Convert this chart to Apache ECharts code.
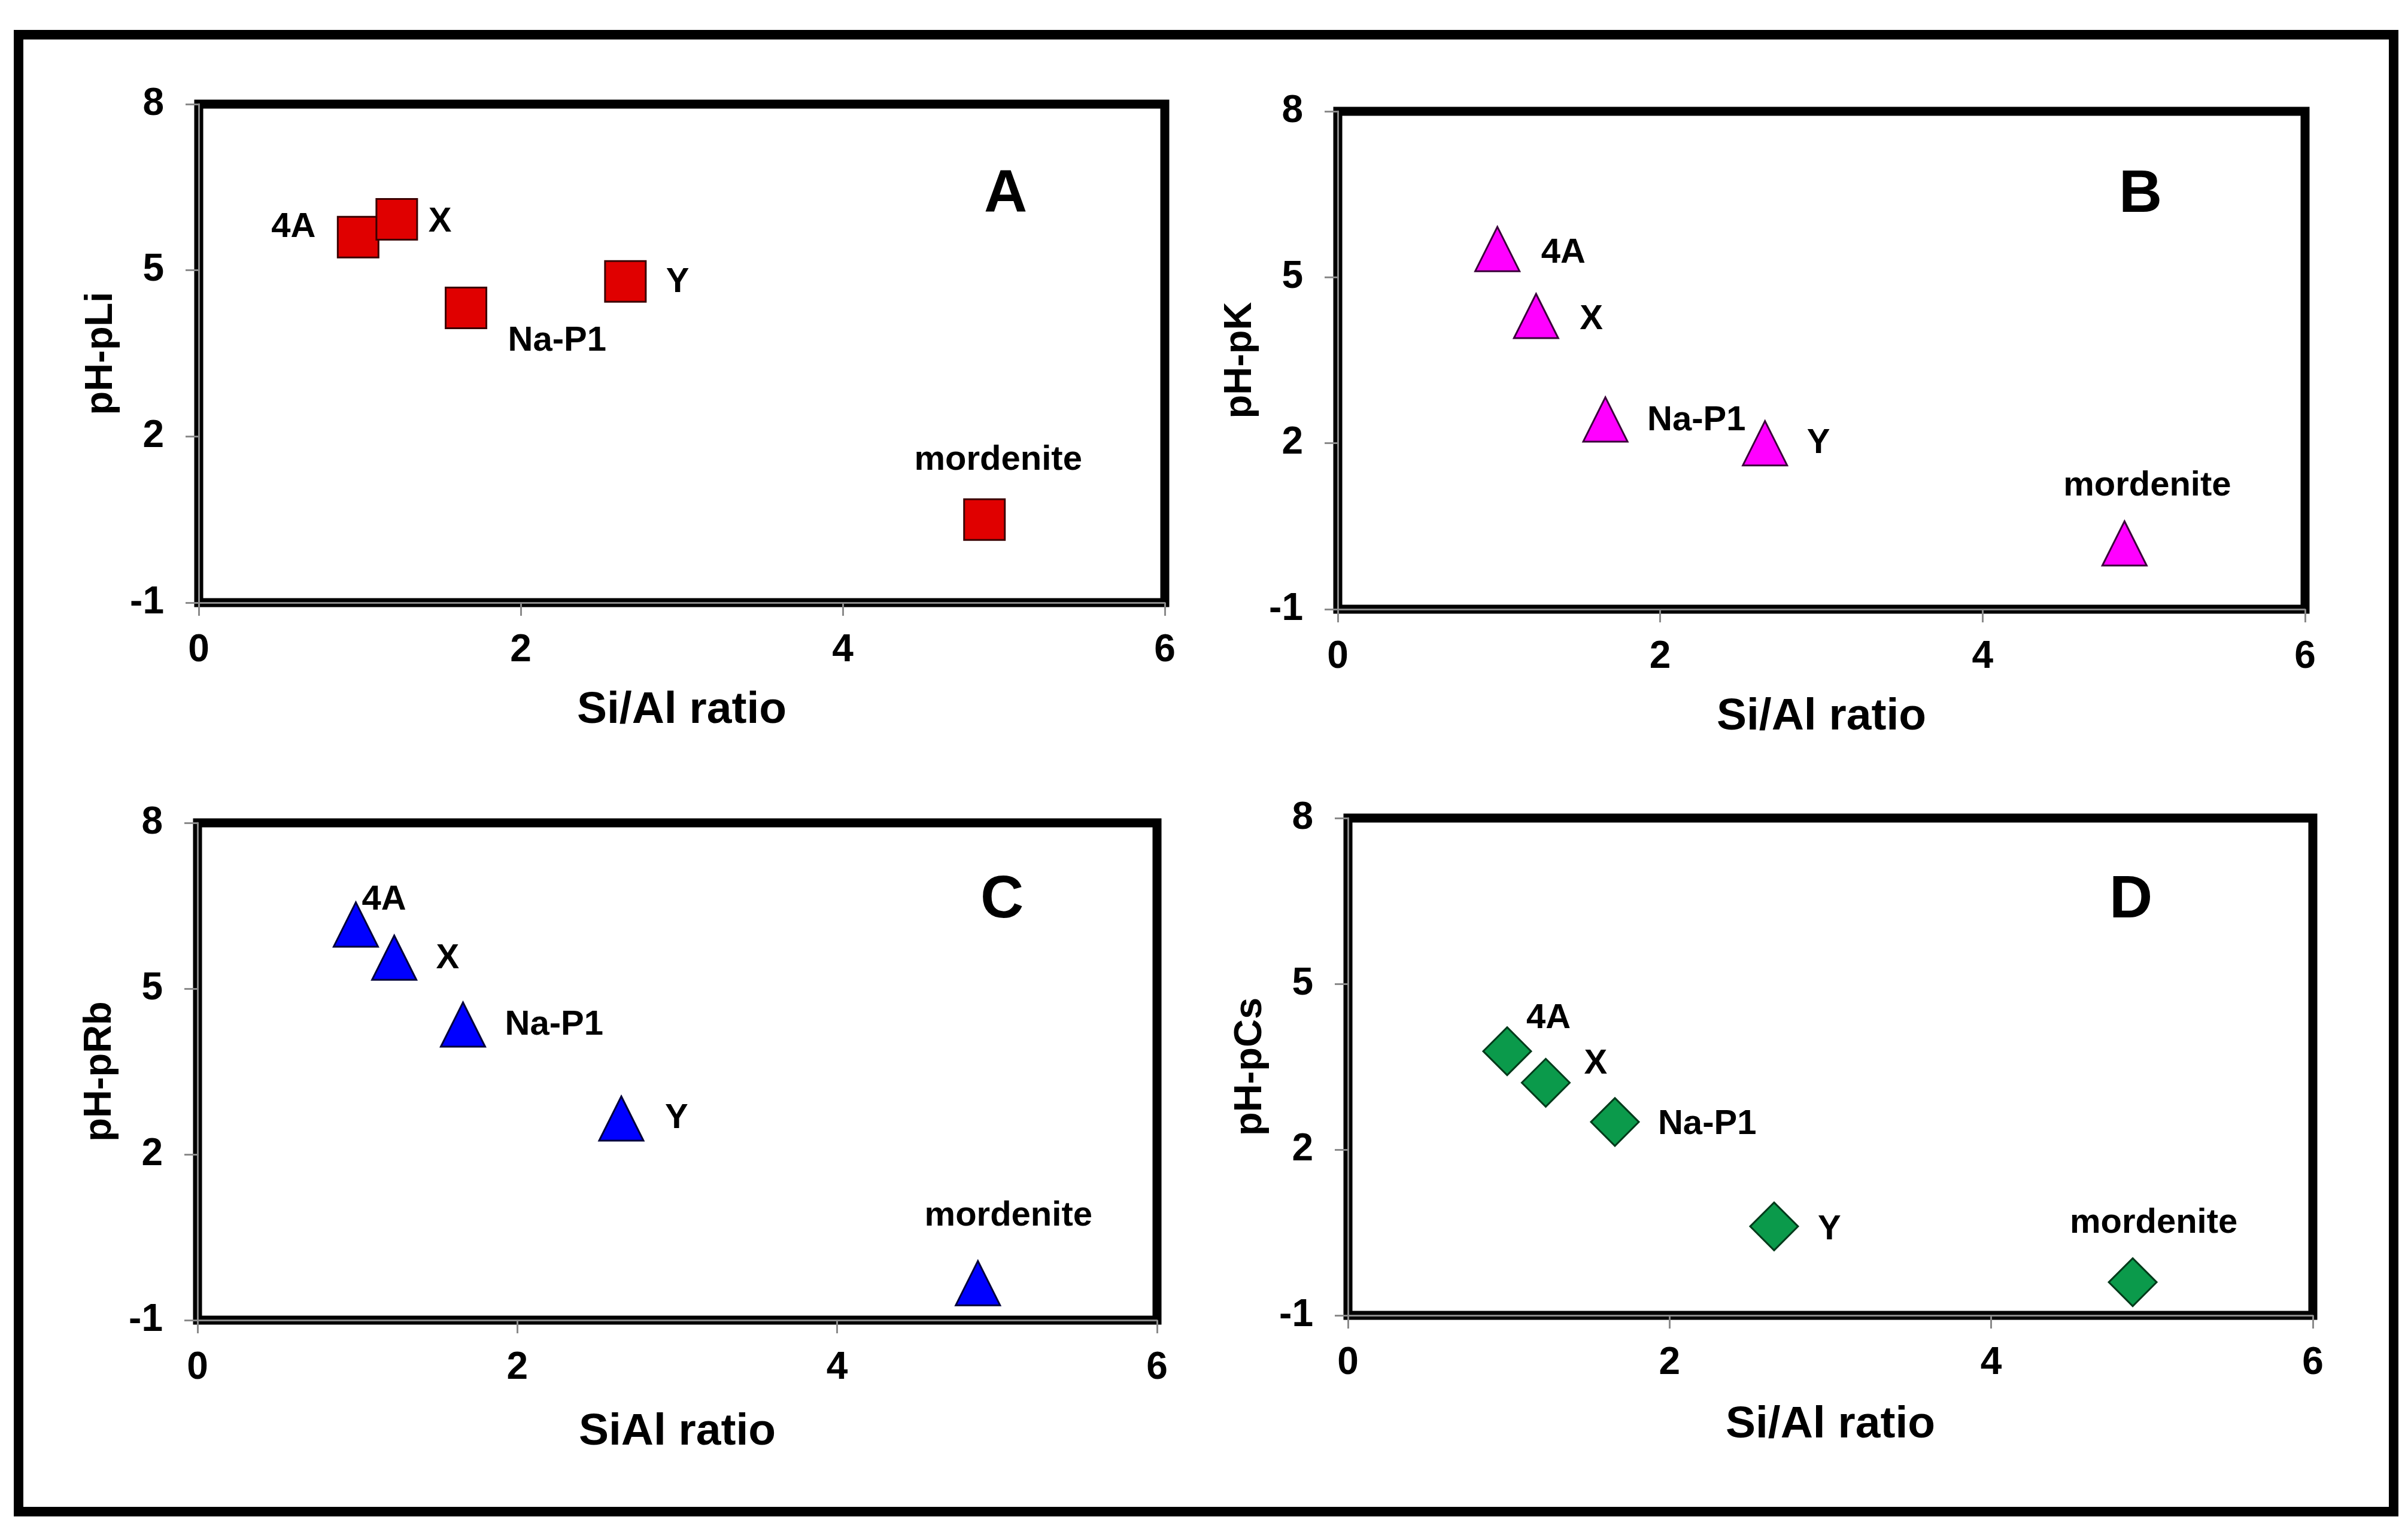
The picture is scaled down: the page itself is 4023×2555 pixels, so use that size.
<!DOCTYPE html>
<html>
<head>
<meta charset="utf-8">
<script src="https://cdn.jsdelivr.net/npm/echarts@6/dist/echarts.min.js"></script>
<style>
  html, body { margin: 0; padding: 0; background: #ffffff; }
  #chart { width: 4023px; height: 2555px; }
</style>
</head>
<body>
<div id="chart"></div>
<script>
// ---------------- data ----------------
const zeolites = ['4A', 'X', 'Na-P1', 'Y', 'mordenite'];
const siAlRatio = [0.99, 1.23, 1.66, 2.65, 4.88];

const pH_pLi = [5.60, 5.92, 4.32, 4.80, 0.50];
const pH_pK  = [5.51, 4.30, 2.43, 2.00, 0.19];
const pH_pRb = [6.16, 5.56, 4.35, 2.65, -0.33];
const pH_pCs = [3.78, 3.21, 2.50, 0.61, -0.40];

const xTicks = { min: 0, max: 6, interval: 2 };
const yTicks = { min: -1, max: 8, interval: 3 };

const panelLetters = ['A', 'B', 'C', 'D'];
const xTitles = ['Si/Al ratio', 'Si/Al ratio', 'SiAl ratio', 'Si/Al ratio'];
const yTitles = ['pH-pLi', 'pH-pK', 'pH-pRb', 'pH-pCs'];

// ---------------- layout & style ----------------
const FONT = '"Liberation Sans", Arial, sans-serif';
const grids = [
  { left: 332, top: 174, width: 1614, height: 833 },
  { left: 2235, top: 186, width: 1616, height: 832 },
  { left: 330, top: 1375, width: 1603, height: 831 },
  { left: 2252, top: 1367, width: 1612, height: 831 }
];
const xNameGaps = [143, 143, 150, 146];
const yNameGaps = [130, 130, 130, 130];
const letterPos = [[1680, 326], [3576, 326], [1674, 1505], [3560, 1505]];

const markers = [
  { symbol: 'rect', size: 68, color: '#E00000', border: '#3a0000' },
  { symbol: 'triangle', size: 74, color: '#FF00FF', border: '#3a003a' },
  { symbol: 'triangle', size: 74, color: '#0000FF', border: '#00003a' },
  { symbol: 'diamond', size: 80, color: '#0B9A4B', border: '#003a1a' }
];

// label placement per panel per point: [align, dx, dy]
const labelPlace = [
  [['right', -71, -16], ['left', 53, 4], ['left', 70, 55], ['left', 68, 2], ['center', 23, -99]],
  [['left', 73, 7], ['left', 73, 6], ['left', 70, 2], ['left', 70, 0], ['center', 38, -96]],
  [['left', 10, -41], ['left', 70, 2], ['left', 70, 1], ['left', 73, 0], ['center', 51, -112]],
  [['left', 32, -55], ['left', 64, -31], ['left', 72, 4], ['left', 73, 6], ['center', 35, -99]]
];

const panelValues = [pH_pLi, pH_pK, pH_pRb, pH_pCs];

const gridOpts = [], xAxes = [], yAxes = [], series = [];
const axisGray = '#8a8a8a';

grids.forEach((g, i) => {
  gridOpts.push(Object.assign({
    show: true, borderColor: '#000', borderWidth: 15, backgroundColor: '#fff'
  }, g));

  xAxes.push({
    gridIndex: i, type: 'value',
    min: xTicks.min, max: xTicks.max, interval: xTicks.interval,
    name: xTitles[i], nameLocation: 'middle', nameGap: xNameGaps[i],
    nameTextStyle: { fontFamily: FONT, fontWeight: 'bold', fontSize: 75, color: '#000' },
    axisLine: { show: true, onZero: false, lineStyle: { color: axisGray, width: 3 } },
    axisTick: { show: true, inside: false, length: 22, lineStyle: { color: axisGray, width: 3 } },
    axisLabel: { margin: 48, fontFamily: FONT, fontWeight: 'bold', fontSize: 64, color: '#000' },
    splitLine: { show: false }
  });

  yAxes.push({
    gridIndex: i, type: 'value',
    min: yTicks.min, max: yTicks.max, interval: yTicks.interval,
    name: yTitles[i], nameLocation: 'middle', nameGap: yNameGaps[i],
    nameTextStyle: { fontFamily: FONT, fontWeight: 'bold', fontSize: 65, color: '#000' },
    axisLine: { show: true, onZero: false, lineStyle: { color: axisGray, width: 3 } },
    axisTick: { show: true, inside: false, length: 22, lineStyle: { color: axisGray, width: 3 } },
    axisLabel: { margin: 58, fontFamily: FONT, fontWeight: 'bold', fontSize: 64, color: '#000' },
    splitLine: { show: false }
  });

  const m = markers[i];
  const data = zeolites.map((name, k) => {
    const p = labelPlace[i][k];
    return {
      name: name,
      value: [siAlRatio[k], panelValues[i][k]],
      label: { align: p[0], offset: [p[1], p[2]] }
    };
  });

  series.push({
    type: 'scatter',
    xAxisIndex: i, yAxisIndex: i,
    symbol: m.symbol, symbolSize: m.size,
    itemStyle: { color: m.color, borderColor: m.border, borderWidth: 3, opacity: 1 },
    label: {
      show: true, position: 'inside', formatter: '{b}',
      verticalAlign: 'middle',
      fontFamily: FONT, fontWeight: 'bold', fontSize: 58, color: '#000'
    },
    emphasis: { disabled: true },
    data: data,
    z: 5
  });
});

const graphics = [
  {
    type: 'rect', silent: true, z: 100,
    shape: { x: 31, y: 58, width: 3968, height: 2468 },
    style: { fill: 'none', stroke: '#000', lineWidth: 16 }
  }
];
panelLetters.forEach((L, i) => {
  graphics.push({
    type: 'text', silent: true, z: 100,
    x: letterPos[i][0], y: letterPos[i][1],
    style: {
      text: L, fontFamily: FONT, fontWeight: 'bold', fontSize: 100,
      fill: '#000', align: 'center', verticalAlign: 'middle'
    }
  });
});

const chart = echarts.init(document.getElementById('chart'), null, { renderer: 'canvas' });
chart.setOption({
  animation: false,
  backgroundColor: '#ffffff',
  grid: gridOpts,
  xAxis: xAxes,
  yAxis: yAxes,
  series: series,
  graphic: graphics
});
</script>
</body>
</html>
